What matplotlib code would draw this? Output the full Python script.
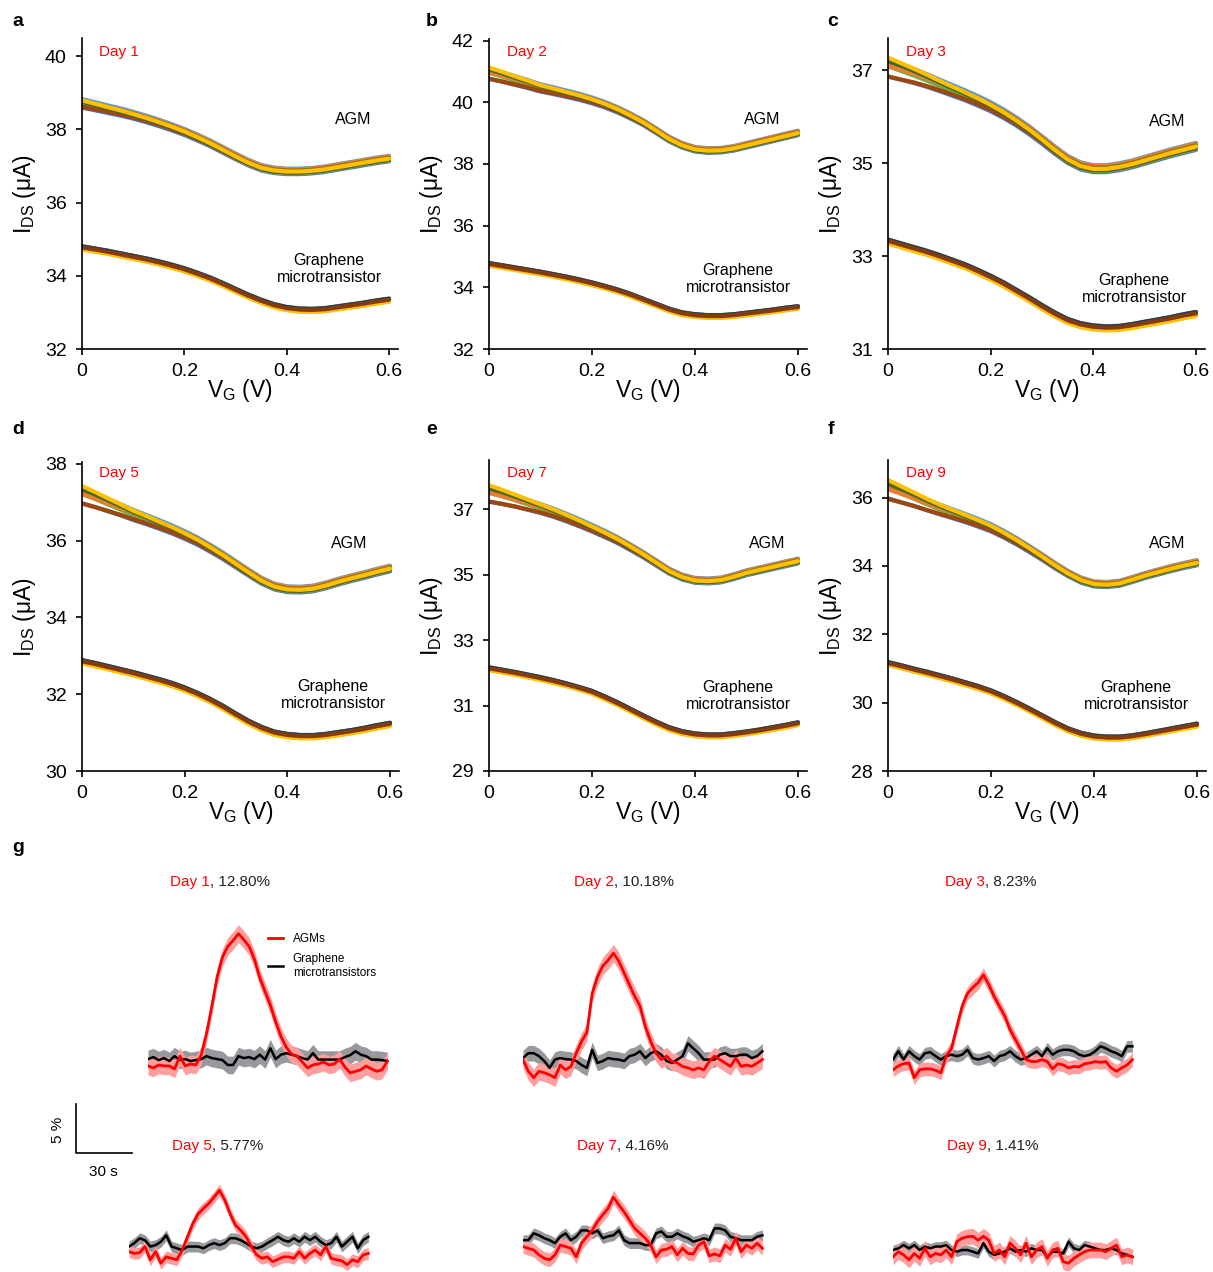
import numpy as np
import matplotlib.pyplot as plt

plt.rcParams['font.family'] = ['Liberation Sans', 'DejaVu Sans']
plt.rcParams['mathtext.fontset'] = 'custom'
plt.rcParams['mathtext.rm'] = 'Liberation Sans'
plt.rcParams['mathtext.it'] = 'Liberation Sans:italic'

# ---------------- data: transfer curves (I_DS vs V_G) ----------------
vg = [0, 0.025, 0.05, 0.075, 0.1, 0.125, 0.15, 0.175, 0.2, 0.225, 0.25, 0.275, 0.3,
      0.325, 0.35, 0.375, 0.4, 0.425, 0.45, 0.475, 0.5, 0.525, 0.55, 0.575, 0.6]

agm_day1 = [38.72, 38.64, 38.56, 38.48, 38.39, 38.29, 38.18, 38.06, 37.93, 37.78, 37.62, 37.44, 37.26,
            37.09, 36.95, 36.88, 36.85, 36.85, 36.87, 36.91, 36.97, 37.03, 37.09, 37.15, 37.2]
gr_day1 = [34.78, 34.72, 34.66, 34.59, 34.52, 34.45, 34.37, 34.28, 34.18, 34.06, 33.93, 33.78, 33.62,
           33.46, 33.32, 33.2, 33.12, 33.08, 33.07, 33.09, 33.14, 33.19, 33.24, 33.3, 33.35]
agm_day2 = [40.95, 40.84, 40.72, 40.6, 40.47, 40.38, 40.28, 40.18, 40.06, 39.92, 39.75, 39.55, 39.33,
            39.07, 38.8, 38.6, 38.47, 38.43, 38.44, 38.5, 38.6, 38.7, 38.8, 38.9, 39.0]
gr_day2 = [34.76, 34.69, 34.62, 34.55, 34.48, 34.4, 34.32, 34.23, 34.13, 34.02, 33.9, 33.76, 33.6,
           33.44, 33.28, 33.16, 33.1, 33.07, 33.07, 33.1, 33.15, 33.2, 33.25, 33.31, 33.36]
agm_day3 = [37.08, 36.99, 36.9, 36.8, 36.69, 36.58, 36.47, 36.35, 36.22, 36.07, 35.9, 35.71, 35.5,
            35.28, 35.08, 34.94, 34.88, 34.88, 34.92, 34.98, 35.06, 35.14, 35.22, 35.29, 35.36]
gr_day3 = [33.33, 33.25, 33.17, 33.09, 33.0, 32.9, 32.8, 32.68, 32.55, 32.41, 32.25, 32.09, 31.92,
           31.76, 31.62, 31.53, 31.48, 31.46, 31.47, 31.51, 31.56, 31.61, 31.66, 31.72, 31.77]
agm_day5 = [37.2, 37.08, 36.95, 36.82, 36.68, 36.56, 36.43, 36.3, 36.15, 35.99, 35.8, 35.6, 35.38,
            35.16, 34.95, 34.8, 34.73, 34.72, 34.75, 34.83, 34.93, 35.02, 35.1, 35.19, 35.27]
gr_day5 = [32.86, 32.79, 32.71, 32.63, 32.55, 32.46, 32.37, 32.27, 32.15, 32.01, 31.85, 31.67, 31.47,
           31.28, 31.12, 31.0, 30.94, 30.91, 30.91, 30.94, 30.99, 31.04, 31.1, 31.17, 31.23]
agm_day7 = [37.48, 37.38, 37.27, 37.15, 37.03, 36.9, 36.75, 36.59, 36.42, 36.24, 36.05, 35.83, 35.6,
            35.35, 35.1, 34.92, 34.82, 34.8, 34.83, 34.93, 35.05, 35.14, 35.23, 35.32, 35.41]
gr_day7 = [32.14, 32.07, 32.0, 31.92, 31.84, 31.75, 31.65, 31.54, 31.42, 31.25, 31.07, 30.87, 30.67,
           30.48, 30.31, 30.19, 30.12, 30.09, 30.09, 30.13, 30.18, 30.24, 30.31, 30.38, 30.46]
agm_day9 = [36.24, 36.1, 35.96, 35.81, 35.67, 35.54, 35.41, 35.27, 35.12, 34.93, 34.72, 34.49, 34.25,
            34.0, 33.77, 33.58, 33.47, 33.45, 33.49, 33.6, 33.72, 33.82, 33.92, 34.01, 34.09]
gr_day9 = [31.16, 31.07, 30.97, 30.88, 30.78, 30.68, 30.57, 30.46, 30.33, 30.17, 29.99, 29.8, 29.6,
           29.4, 29.22, 29.09, 29.01, 28.98, 28.98, 29.02, 29.08, 29.15, 29.22, 29.29, 29.36]

# spread of the individual sweeps around each bundle
agm_shift = [0.08, -0.07, 0.05, -0.05, 0.0, 0.06, -0.03, 0.03, -0.02, 0.0]
agm_fan = [0.2, -0.35, 0.1, 0.15, 0.3, -0.1, -0.45, 0.25, 0.4, 0.5]
fan_weight = [1, 0.85, 0.7, 0.57, 0.45, 0.37, 0.3, 0.25, 0.2, 0.16, 0.12, 0.09, 0.06,
              0.04, 0.02, 0.01, 0, 0, 0, 0, 0, 0, 0, 0, 0]
day_fan = [0.15, 0.35, 0.4, 0.45, 0.5, 0.55]
gr_shift = [-0.05, -0.04, -0.06, 0.03, 0.02, 0.0, 0.025, 0.0]

days = ['Day 1', 'Day 2', 'Day 3', 'Day 5', 'Day 7', 'Day 9']
agm_curves = [agm_day1, agm_day2, agm_day3, agm_day5, agm_day7, agm_day9]
gr_curves = [gr_day1, gr_day2, gr_day3, gr_day5, gr_day7, gr_day9]
ylims = [(32, 40.5), (32, 42.05), (31, 37.7), (30, 38.05), (29, 38.5), (28, 37.1)]
yticks = [[32, 34, 36, 38, 40], [32, 34, 36, 38, 40, 42], [31, 33, 35, 37],
          [30, 32, 34, 36, 38], [29, 31, 33, 35, 37], [28, 30, 32, 34, 36]]

# ---------------- data: real-time responses (% change) ----------------
dt = 2.85  # s
red_day1 = [-0.3, -0.5, -0.2, -0.3, -0.3, -0.6, 0.7, -0.3, -0.1, -0.2, 0.8, 3.0, 5.8, 8.8, 10.8, 11.9,
            12.5, 13.2, 12.6, 11.9, 10.6, 8.7, 7.3, 5.9, 4.2, 2.7, 1.6, 0.9, 0.7, 0.1, -0.5, -0.2,
            -0.1, 0.1, -0.2, -0.1, 0.4, -0.4, -1.0, -0.85, -0.7, -0.3, -0.6, -0.85, -0.7, 0.2]
blk_day1 = [0.4, 0.6, 0.3, 0.5, 0.2, 0.7, 0.3, 0.4, 0.2, 0.3, 0.4, 0.7, 0.5, 0.4, 0.3, -0.2,
            -0.2, 0.7, 0.5, 0.6, 0.4, 0.85, 0.35, 1.5, 0.4, 0.85, 1.0, 0.85, 0.7, 0.5, 0.35, 1.0,
            0.35, 0.35, 0.35, 0.35, 0.35, 0.6, 0.8, 1.2, 0.85, 0.7, 0.35, 0.35, 0.3, 0.2]
red_day2 = [0.35, -0.85, -1.5, -0.85, -1.0, -1.2, -1.5, -0.2, -0.7, -0.35, 1.0, 2.2, 3.1, 7.1, 8.8, 9.9,
            10.5, 11.2, 10.4, 9.2, 8.0, 6.8, 5.8, 3.7, 2.2, 1.0, 0.35, 0.7, 0.15, 0.0, -0.35, -0.5,
            -0.7, -0.5, -0.7, 0.15, 0.7, 0.35, 0.0, -0.35, 0.5, -0.35, -0.2, -0.35, 0.0, 0.35]
blk_day2 = [0.5, 1.0, 1.0, 0.7, 0.2, -0.5, 0.35, 0.5, 0.4, 0.35, 0.2, -0.2, -0.5, 1.35, 0.0, 0.2,
            0.5, 0.4, 0.35, 0.2, 0.7, 0.85, 1.2, 0.5, 1.0, 1.2, 0.85, 0.2, 0.0, 0.35, 0.7, 2.0,
            1.5, 1.0, 0.35, 0.35, 0.35, 0.85, 1.0, 0.7, 0.7, 0.85, 0.85, 0.5, 0.7, 1.2]
red_day3 = [-0.7, -0.3, -0.07, 0.0, -1.5, -0.7, -0.6, -0.6, -0.75, -1.0, 0.7, 1.5, 3.7, 5.8, 7.1, 7.7,
            8.2, 9.0, 8.0, 6.8, 5.8, 4.8, 3.4, 2.4, 1.4, 0.35, 0.15, 0.15, 0.35, 0.15, -0.6, -0.07,
            -0.2, -0.5, -0.35, -0.4, -0.07, 0.0, 0.15, 0.07, 0.15, -0.5, -0.85, -0.5, -0.2, 0.35]
blk_day3 = [0.35, 1.2, 0.35, 1.2, 0.7, 0.35, 1.0, 1.1, 0.7, 0.35, 0.7, 0.85, 0.7, 0.85, 1.35, 0.5,
            0.35, 0.5, 0.7, 0.2, 0.7, 0.85, 1.2, 0.7, 0.35, 0.5, 0.85, 1.2, 0.7, 1.5, 0.85, 1.2,
            1.35, 1.35, 1.2, 0.85, 0.7, 0.85, 1.2, 1.7, 1.5, 1.2, 1.0, 0.7, 1.7, 1.7]
red_day5 = [-0.17, -0.35, -0.27, 0.35, -1.0, -0.17, -1.35, -0.7, -0.85, -1.0, 0.0, 1.35, 2.7, 3.7, 4.25, 4.75,
            5.4, 6.1, 5.1, 3.7, 2.55, 2.0, 1.35, 0.35, -0.5, -0.85, -0.7, -1.2, -0.95, -0.7, -0.7, -0.85,
            -0.17, -0.85, -0.35, 0.0, -0.5, 0.35, -0.85, -1.0, -1.1, -1.5, -1.0, -1.2, -0.5, -0.35]
blk_day5 = [0.35, 0.7, 1.2, 1.0, 0.35, 0.5, 0.85, 1.5, 0.35, 0.17, 0.0, 0.35, 0.35, 0.35, 0.17, 0.5,
            0.7, 0.5, 0.7, 1.2, 1.2, 1.0, 0.7, 0.35, 0.17, 0.35, 0.7, 1.0, 1.35, 1.0, 0.85, 1.2,
            0.85, 1.35, 1.0, 1.35, 0.85, 0.5, 0.7, 1.35, 0.35, 0.85, 1.35, 0.17, 1.0, 1.35]
red_day7 = [0.35, 0.17, 0.0, -0.5, -0.85, -1.0, -0.5, 0.5, 0.35, 0.17, -0.7, 0.7, 1.35, 2.0, 2.9, 3.6,
            4.25, 5.4, 4.6, 3.9, 3.05, 2.2, 1.7, 1.2, 0.5, -0.7, 0.0, 0.07, 0.35, -0.5, 0.17, -0.35,
            -0.4, 0.5, 0.85, -0.6, -0.4, -0.6, 0.5, 0.07, 1.2, -0.17, 0.5, 0.17, 0.7, 0.17]
blk_day7 = [1.0, 1.0, 1.7, 1.5, 1.2, 1.0, 0.7, 1.35, 1.7, 1.0, 1.35, 2.0, 2.0, 1.7, 2.0, 1.2,
            1.4, 1.5, 2.0, 1.0, 0.7, 0.7, 0.7, 0.5, 0.5, 1.7, 1.9, 1.35, 1.35, 1.7, 1.4, 1.2,
            0.85, 1.0, 1.2, 1.0, 2.2, 2.2, 2.0, 1.35, 1.2, 1.0, 1.0, 1.0, 1.35, 1.5]
red_day9 = [-0.7, -0.17, -0.5, -1.0, -0.35, -0.85, 0.17, -0.7, -0.35, -0.5, 0.0, -0.7, 0.85, 1.2, 1.35, 1.4,
            1.0, 1.4, 1.0, -0.35, 0.0, -0.7, 0.7, 0.17, -0.5, 0.7, -0.7, 0.0, 0.35, -0.85, 0.0, 0.17,
            -1.2, -1.35, -0.85, -0.5, -0.17, 0.0, 0.0, 0.0, -0.17, 0.17, 0.5, -0.7, -0.5, -0.7]
blk_day9 = [0.0, 0.17, 0.5, 0.17, 0.5, 0.0, 0.35, 0.17, 0.35, 0.35, 0.5, 0.0, -0.17, 0.0, 0.0, -0.17,
            -0.35, 0.7, -0.17, -0.5, -0.35, -0.17, 0.17, -0.17, 0.0, -0.17, 0.17, 0.0, 0.0, -0.7, -0.17, -0.17,
            -0.35, 0.85, 0.17, 0.0, 0.5, 0.35, 0.17, 0.0, 0.0, 0.17, 0.0, -0.35, -0.5, -0.7]
red_sem = [0.9, 0.9, 0.7, 0.6, 0.7, 0.8]
blk_sem = [0.9, 0.8, 0.6, 0.55, 0.55, 0.5]
responses = ['12.80%', '10.18%', '8.23%', '5.77%', '4.16%', '1.41%']
red_traces = [red_day1, red_day2, red_day3, red_day5, red_day7, red_day9]
blk_traces = [blk_day1, blk_day2, blk_day3, blk_day5, blk_day7, blk_day9]

# ---------------- layout (pixels) ----------------
W, H = 1213, 1272
fig = plt.figure(figsize=(W / 100, H / 100), dpi=100)


def px_axes(left, top, right, bottom):
    return fig.add_axes([left / W, 1 - bottom / H, (right - left) / W, (bottom - top) / H])


def px_text(x, y, s, **kw):
    return fig.text(x / W, 1 - y / H, s, **kw)


iv_rects = [(82, 38, 398, 349), (489, 39, 807, 349), (888, 38, 1205, 349),
            (82, 462, 399, 771), (489, 460, 807, 771), (888, 460, 1206, 771)]
letters = ['a', 'b', 'c', 'd', 'e', 'f']
letter_pos = [(18, 21), (432, 21), (833, 21), (18, 430), (432, 430), (831, 430)]
day_pos = [(99, 52), (507, 52), (906, 52), (99, 473), (507, 473), (906, 473)]
agm_pos = [(353, 120), (762, 120), (1167, 121), (349, 544), (767, 544), (1167, 544)]
gr_pos = [(329, 269), (738, 279), (1134, 289), (333, 695), (738, 696), (1136, 696)]

agm_colors = ['#5B9BD5', '#4472C4', '#A5A5A5', '#70AD47', '#264478',
              '#ED7D31', '#9E480E', '#997300', '#43682B', '#FFC000']
gr_colors = ['#9DC3E6', '#A5A5A5', '#FFC000', '#70AD47', '#4472C4',
             '#ED7D31', '#1F3864', '#843C0C']

for k in range(6):
    ax = px_axes(*iv_rects[k])
    base = np.array(agm_curves[k])
    for c, col in enumerate(agm_colors):
        y = base + agm_shift[c] + agm_fan[c] * day_fan[k] * np.array(fan_weight)
        ax.plot(vg, y, color=col, lw=3.0, solid_capstyle='round', solid_joinstyle='round')
    base = np.array(gr_curves[k])
    for c, col in enumerate(gr_colors):
        ax.plot(vg, base + gr_shift[c], color=col, lw=3.0, solid_capstyle='round',
                solid_joinstyle='round')

    ax.set_xlim(0, 0.6175)
    ax.set_ylim(*ylims[k])
    ax.set_xticks([0, 0.2, 0.4, 0.6])
    ax.set_xticklabels(['0', '0.2', '0.4', '0.6'])
    ax.set_yticks(yticks[k])
    for s in ['top', 'right']:
        ax.spines[s].set_visible(False)
    for s in ['left', 'bottom']:
        ax.spines[s].set_linewidth(1.2)
    ax.tick_params(axis='both', direction='out', length=4, width=1.2, labelsize=14)
    ax.tick_params(axis='x', pad=6)
    ax.tick_params(axis='y', pad=7)
    ax.set_ylabel(r'$\mathregular{I_{DS}}$ (μA)', fontsize=16.5, labelpad=5)
    ax.set_xlabel(r'$\mathregular{V_G}$ (V)', fontsize=16.5, labelpad=-2)

    px_text(*letter_pos[k], letters[k], fontsize=14, fontweight='bold', ha='center', va='center')
    px_text(*day_pos[k], days[k], fontsize=11, color='#ff0000', ha='left', va='center')
    px_text(*agm_pos[k], 'AGM', fontsize=11.5, ha='center', va='center')
    px_text(*gr_pos[k], 'Graphene\nmicrotransistor', fontsize=11.5, ha='center', va='center',
            linespacing=1.15)

# ---------------- panel g ----------------
PX_PER_S = 56 / 30.0
PX_PER_PCT = 49 / 5.0
trace_left = [148, 523, 893, 129, 523, 893]
trace_zero = [1063, 1063, 1063, 1250, 1250, 1250]
trace_ylim = [(-3, 15), (-3, 15), (-3, 15), (-2.2, 6.8), (-2.2, 6.8), (-2.2, 6.8)]
title_split = [(210, 882), (614, 882), (985, 882), (212, 1146), (617, 1146), (987, 1146)]
XSPAN = 134

px_text(18, 848, 'g', fontsize=14, fontweight='bold', ha='center', va='center')

for k in range(6):
    lo, hi = trace_ylim[k]
    left = trace_left[k]
    z = trace_zero[k]
    ax = px_axes(left, z - hi * PX_PER_PCT, left + XSPAN * PX_PER_S, z - lo * PX_PER_PCT)
    red = np.array(red_traces[k])
    blk = np.array(blk_traces[k])
    tr = np.arange(len(red)) * dt
    tb = np.arange(len(blk)) * dt
    ax.fill_between(tb, blk - blk_sem[k], blk + blk_sem[k], color='#98999d', lw=0)
    lb, = ax.plot(tb, blk, color='black', lw=1.8)
    ax.fill_between(tr, red - red_sem[k], red + red_sem[k], color='#ff9e9e', lw=0)
    lr, = ax.plot(tr, red, color='#ff0000', lw=2.0)
    ax.set_xlim(0, XSPAN)
    ax.set_ylim(lo, hi)
    ax.axis('off')

    sx, sy = title_split[k]
    px_text(sx, sy, days[k], fontsize=11, color='#ff0000', ha='right', va='center')
    px_text(sx, sy, ', ' + responses[k], fontsize=11, color='#222222', ha='left', va='center')

    if k == 0:
        ax.legend([lr, lb], ['AGMs', 'Graphene\nmicrotransistors'], frameon=False, fontsize=8.5,
                  handlelength=1.3, handletextpad=0.8, labelspacing=0.7, borderpad=0,
                  loc='upper left', bbox_to_anchor=(262 / W, 1 - 927 / H),
                  bbox_transform=fig.transFigure)

# scale bar: 5 % and 30 s
sb = px_axes(76, 1153 - 5 * PX_PER_PCT, 76 + 30 * PX_PER_S, 1153)
sb.plot([0, 0, 30], [5, 0, 0], color='black', lw=1.2, clip_on=False)
sb.set_xlim(0, 30)
sb.set_ylim(0, 5)
sb.axis('off')
px_text(58, 1130, '5 %', fontsize=11, rotation=90, ha='center', va='center')
px_text(103, 1172, '30 s', fontsize=11, ha='center', va='center')

fig.savefig('out.png', dpi=100)
